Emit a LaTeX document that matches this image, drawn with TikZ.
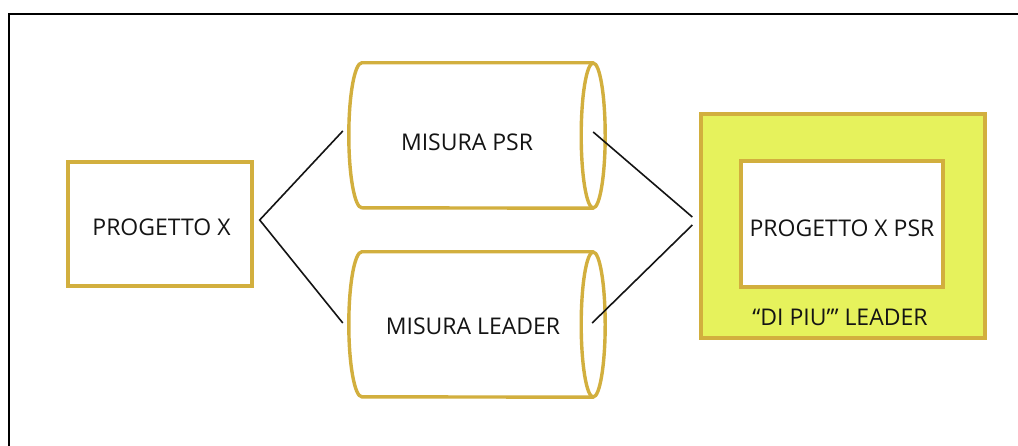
\documentclass[tikz,border=0pt]{standalone}
\usepackage{fontspec}
\setmainfont{Open Sans}
\definecolor{gold}{RGB}{210,175,62}
\definecolor{lemon}{RGB}{230,242,92}
\definecolor{ink}{RGB}{20,20,20}
\begin{document}
\begin{tikzpicture}[x=1pt,y=1pt,
  goldline/.style={draw=gold,line width=3.4pt},
  boxnode/.style={goldline,rectangle,inner sep=0pt,fill=white},
  body/.style={rectangle,inner sep=0pt,minimum width=231pt,minimum height=145pt},
  lbl/.style={text=ink,font=\fontsize{23}{27}\selectfont,inner sep=0pt},
  conn/.style={draw=ink,line width=1.6pt}]
\useasboundingbox (0,0) rectangle (1018,445);
\fill[white] (0,0) rectangle (1018,445);
% frame
\draw[line width=2.4pt,black] (9,-2) -- (9,431) -- (1020,431);

% left box
\node[boxnode,minimum width=184pt,minimum height=124pt] (px) at (160,221) {};
\node[lbl] (pxt) at (161.5,218) {PROGETTO X};

% cylinders
\node[body] (psr) at (477.5,309.5) {};
\node[body] (lead) at (477.5,120.5) {};
\foreach \c in {psr,lead}{
  \fill[white] (\c.north east) -- (\c.north west) arc[start angle=90,end angle=270,x radius=13,y radius=72.5] -- (\c.south east) arc[start angle=-90,end angle=90,x radius=12,y radius=72.5] -- cycle;
  \draw[goldline] (\c.north east) -- (\c.north west) arc[start angle=90,end angle=270,x radius=13,y radius=72.5] -- (\c.south east);
  \draw[goldline] (\c.east) ellipse[x radius=12,y radius=72.5];
}
\node[lbl] (psrt) at (467,303) {MISURA PSR};
\node[lbl] (leadt) at (473,119) {MISURA LEADER};

% right box
\node[goldline,rectangle,inner sep=0pt,fill=lemon,minimum width=284pt,minimum height=224pt] (outer) at (843,219) {};
\node[boxnode,minimum width=202pt,minimum height=126pt] (inner) at (842,221) {};
\node[lbl] (innert) at (842,217) {PROGETTO X PSR};
\node[lbl] (outert) at (840,128) {“DI PIU’” LEADER};

% connectors
\coordinate (pxa) at ([shift={(6,4)}]px.east);
\draw[conn] ([shift={(-19,4.5)}]psr.west) -- (pxa) -- ([shift={(-19,1.5)}]lead.west);
\draw[conn] ([shift={(0,3.5)}]psr.east) -- ([shift={(-7,9)}]outer.west);
\draw[conn] ([shift={(-1,1.5)}]lead.east) -- ([shift={(-7,1)}]outer.west);
\end{tikzpicture}
\end{document}
